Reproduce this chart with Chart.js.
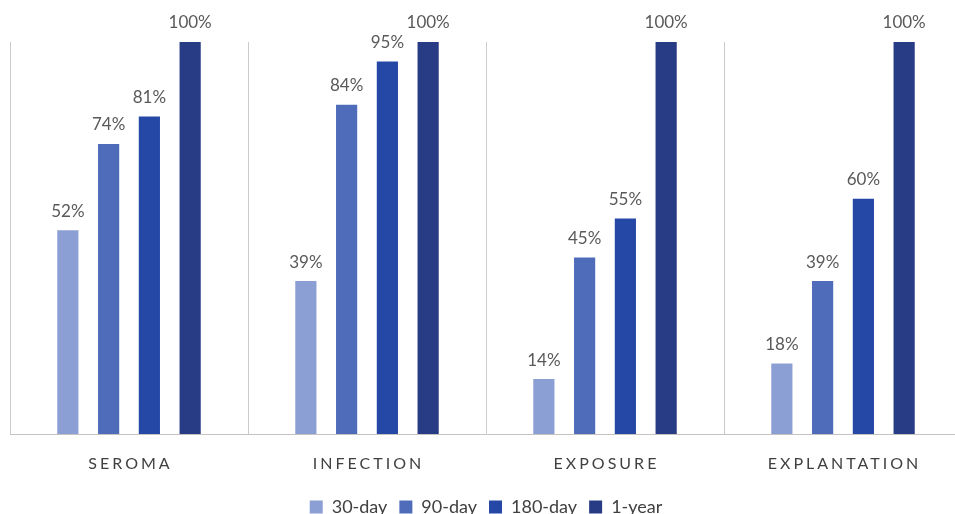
<!DOCTYPE html>
<html>
<head>
<meta charset="utf-8">
<script src="https://cdn.jsdelivr.net/npm/chart.js@4/dist/chart.umd.min.js"></script>
<style>
  html, body { margin: 0; padding: 0; background: #fff; overflow: hidden; }
  #wrap { width: 975px; height: 514px; }
</style>
</head>
<body>
<div id="wrap"><canvas id="bar-chart"></canvas></div>
<script>
const categories = ["SEROMA", "INFECTION", "EXPOSURE", "EXPLANTATION"];
const seriesNames = ["30-day", "90-day", "180-day", "1-year"];
const day30 = [52, 39, 14, 18];
const day90 = [74, 84, 45, 39];
const day180 = [81, 95, 55, 60];
const year1 = [100, 100, 100, 100];
const colors = ["#8c9fd4", "#4f6cba", "#2548a6", "#283c85"];

// labels over every bar + spaced category names
const labelPlugin = {
  id: "labels",
  afterDatasetsDraw(chart) {
    const ctx = chart.ctx;
    ctx.save();
    ctx.font = "17px Lato";
    ctx.fillStyle = "#595959";
    ctx.textAlign = "center";
    ctx.textBaseline = "middle";
    chart.data.datasets.forEach((ds, i) => {
      chart.getDatasetMeta(i).data.forEach((bar, j) => {
        ctx.fillText(ds.data[j] + "%", bar.x, bar.y - 19);
      });
    });
    const xs = chart.scales.x;
    ctx.font = "16px Lato";
    ctx.fillStyle = "#404040";
    ctx.letterSpacing = "3px";
    categories.forEach((c, j) => {
      ctx.fillText(c, xs.getPixelForValue(j) + 1.5, xs.top + 30);
    });
    ctx.restore();
  }
};

const chart = new Chart(document.querySelector("#bar-chart").getContext("2d"), {
  type: "bar",
  data: {
    labels: categories,
    datasets: [day30, day90, day180, year1].map((d, i) => ({
      label: seriesNames[i],
      data: d,
      backgroundColor: colors[i],
      categoryPercentage: 0.685,
      barPercentage: 0.52
    }))
  },
  options: {
    responsive: true,
    maintainAspectRatio: false,
    animation: false,
    layout: { padding: { left: 10, right: 13, top: 42, bottom: -12 } },
    scales: {
      x: {
        grid: { offset: true, color: "#cfcbc8", drawTicks: false, lineWidth: 1 },
        border: { color: "#c6c2bf" },
        ticks: { callback: () => "", font: { size: 15 }, padding: 17 }
      },
      y: { display: false, min: 0, max: 100 }
    },
    plugins: {
      legend: {
        position: "bottom",
        labels: {
          font: { family: "Lato", size: 18 },
          color: "#404040",
          boxWidth: 13,
          boxHeight: 13,
          padding: 12
        }
      },
      tooltip: { enabled: false }
    }
  },
  plugins: [labelPlugin]
});
</script>
</body>
</html>
